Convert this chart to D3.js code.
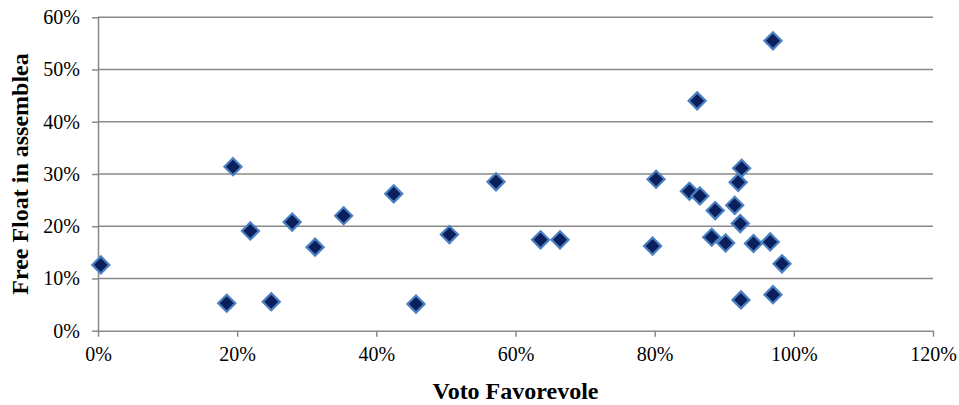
<!DOCTYPE html>
<html>
<head>
<meta charset="utf-8">
<script src="https://cdn.jsdelivr.net/npm/d3@7"></script>
<style>
  html, body { margin: 0; padding: 0; background: #fff; }
  svg { display: block; }
</style>
</head>
<body>
<script>
const votoFavorevole = [0.4, 18.5, 19.4, 21.9, 24.9, 27.9, 31.2, 35.3, 42.5, 45.7, 50.5, 57.2, 63.6, 66.4, 79.7, 80.2, 85.0, 86.1, 86.5, 88.2, 88.7, 90.2, 91.5, 92.0, 92.3, 92.4, 92.5, 94.2, 96.6, 97.0, 97.0, 98.3];
const freeFloat = [12.6, 5.25, 31.4, 19.1, 5.55, 20.8, 16.0, 22.0, 26.2, 5.1, 18.4, 28.5, 17.4, 17.4, 16.2, 29.0, 26.7, 44.0, 25.8, 17.9, 23.0, 16.8, 24.0, 28.4, 20.5, 5.9, 31.1, 16.7, 17.0, 6.9, 55.5, 12.8];
const xTicks = [0, 20, 40, 60, 80, 100, 120];
const yTicks = [0, 10, 20, 30, 40, 50, 60];
const xTitle = "Voto Favorevole";
const yTitle = "Free Float in assemblea";

const FONT = "Liberation Serif, Times New Roman, serif";
const W = 959, H = 405;
const margin = { left: 98, right: 26, top: 17.3, bottom: 74.3 };

const svg = d3.select("body").append("svg").attr("width", W).attr("height", H)
  .attr("font-family", FONT);

const x = d3.scaleLinear().domain([0, 120]).range([margin.left, W - margin.right]);
const y = d3.scaleLinear().domain([0, 60]).range([H - margin.bottom, margin.top]);

const gridColor = "#898989";

// gridlines
svg.append("g").selectAll("line").data(yTicks.filter(d => d > 0)).join("line")
  .attr("x1", x(0)).attr("x2", x(120))
  .attr("y1", d => y(d)).attr("y2", d => y(d))
  .attr("stroke", gridColor).attr("stroke-width", 1.5);

// y axis
const yAxis = svg.append("g").attr("transform", `translate(${x(0)},0)`)
  .call(d3.axisLeft(y).tickValues(yTicks).tickFormat(d => d + "%").tickSize(6).tickSizeOuter(0));
yAxis.attr("font-family", FONT).attr("font-size", 20);
yAxis.select(".domain").attr("stroke", gridColor).attr("stroke-width", 1.5);
yAxis.selectAll(".tick line").attr("stroke", gridColor).attr("stroke-width", 1.5);
yAxis.selectAll(".tick text").attr("x", -18).attr("fill", "#000")
  .attr("font-family", FONT).attr("font-size", 20);

// x axis
const xAxis = svg.append("g").attr("transform", `translate(0,${y(0)})`)
  .call(d3.axisBottom(x).tickValues(xTicks).tickFormat(d => d + "%").tickSize(6).tickSizeOuter(0));
xAxis.attr("font-family", FONT).attr("font-size", 20);
xAxis.select(".domain").attr("stroke", gridColor).attr("stroke-width", 1.5);
xAxis.selectAll(".tick line").attr("stroke", gridColor).attr("stroke-width", 1.5);
xAxis.selectAll(".tick text").attr("y", 16).attr("fill", "#000")
  .attr("font-family", FONT).attr("font-size", 20);

// titles
svg.append("text")
  .attr("x", x(60)).attr("y", 399)
  .attr("text-anchor", "middle").attr("font-size", 24).attr("font-weight", "bold")
  .attr("font-family", FONT)
  .text(xTitle);
svg.append("text")
  .attr("transform", `translate(28,${(y(0) + y(60)) / 2}) rotate(-90)`)
  .attr("text-anchor", "middle").attr("font-size", 24).attr("font-weight", "bold")
  .attr("font-family", FONT)
  .text(yTitle);

// points
const pts = votoFavorevole.map((v, i) => ({ x: v, y: freeFloat[i] }));
const sym = d3.symbol().type(d3.symbolDiamond2).size(185);
svg.append("g").selectAll("path").data(pts).join("path")
  .attr("d", sym)
  .attr("transform", d => `translate(${x(d.x)},${y(d.y)})`)
  .attr("fill", "#0a1f5c")
  .attr("stroke", "#4a7fc0")
  .attr("stroke-width", 2.2);
</script>
</body>
</html>
